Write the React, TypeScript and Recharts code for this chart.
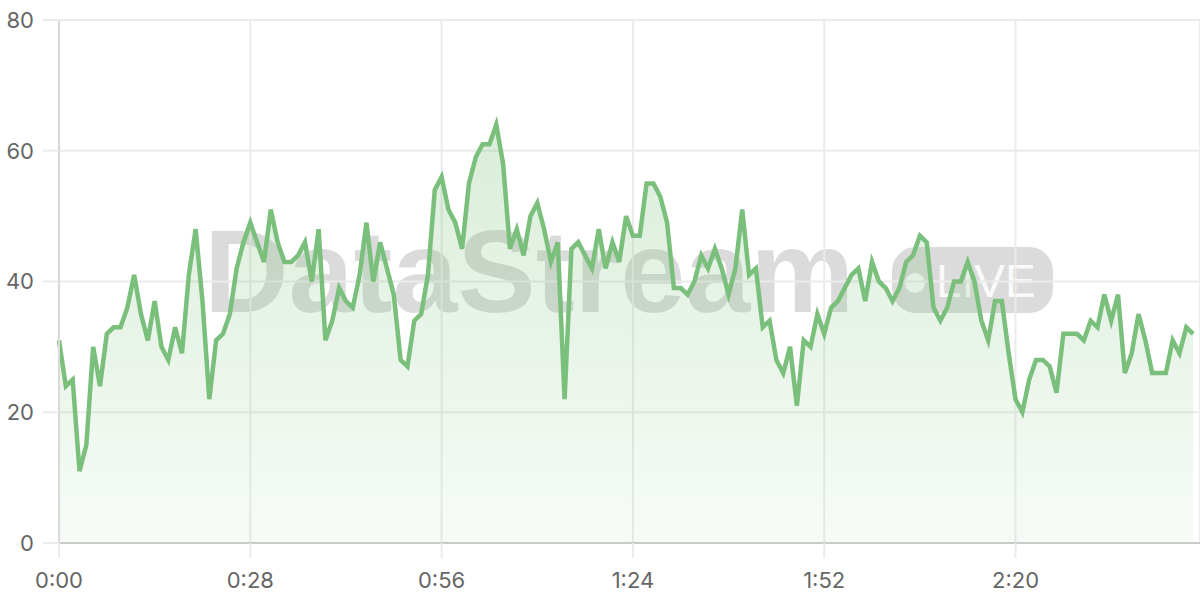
import React from 'react'
import { AreaChart, Area, XAxis, YAxis, CartesianGrid } from 'recharts'

// one reading per second
const values = [
  31, 24, 25, 11, 15, 30, 24, 32, 33, 33, 36, 41, 35, 31, 37, 30, 28, 33, 29, 41,
  48, 37, 22, 31, 32, 35, 42, 46, 49, 46, 43, 51, 46, 43, 43, 44, 46, 40, 48, 31,
  34, 39, 37, 36, 41, 49, 40, 46, 42, 38, 28, 27, 34, 35, 41, 54, 56, 51, 49, 45,
  55, 59, 61, 61, 64, 58, 45, 48, 44, 50, 52, 48, 43, 46, 22, 45, 46, 44, 42, 48,
  42, 46, 43, 50, 47, 47, 55, 55, 53, 49, 39, 39, 38, 40, 44, 42, 45, 42, 38, 42,
  51, 41, 42, 33, 34, 28, 26, 30, 21, 31, 30, 35, 32, 36, 37, 39, 41, 42, 37, 43,
  40, 39, 37, 39, 43, 44, 47, 46, 36, 34, 36, 40, 40, 43, 40, 34, 31, 37, 37, 29,
  22, 20, 25, 28, 28, 27, 23, 32, 32, 32, 31, 34, 33, 38, 34, 38, 26, 29, 35, 31,
  26, 26, 26, 31, 29, 33, 32,
]
const seconds = values.map((_, i) => i)
const xTicks = [0, 28, 56, 84, 112, 140]
const yTicks = [0, 20, 40, 60, 80]

const data = values.map((v, i) => ({ t: seconds[i], v }))

const GREEN = '#7abf7b'
const GRID = '#ebebeb'
const LABEL = '#666'
const FONT = 'Inter, "Liberation Sans", sans-serif'

const fmtTime = (s: number) => `${Math.floor(s / 60)}:${String(s % 60).padStart(2, '0')}`

function Watermark() {
  const ink = 'rgba(0,0,0,0.14)'
  return (
    <svg width={1200} height={600} style={{ position: 'absolute', left: 0, top: 0 }}>
      <text x={204} y={312} fontFamily='"Liberation Sans", Arial, sans-serif' fontWeight={700} fontSize={117} fill={ink}>
        DataStream
      </text>
      <rect x={892} y={247} width={161} height={66} rx={24} fill={ink} />
      <circle cx={915} cy={283} r={10} fill="rgba(255,255,255,0.9)" />
      <text x={936} y={297} fontFamily='"Liberation Sans", Arial, sans-serif' fontSize={46} fill="rgba(255,255,255,0.9)">
        LIVE
      </text>
    </svg>
  )
}

export default function App() {
  return (
    <div style={{ position: 'absolute', left: 0, top: 0, width: 1200, height: 600, background: '#fff' }}>
      <Watermark />
      <div style={{ position: 'absolute', left: 0, top: 0 }}>
        <AreaChart width={1200} height={600} data={data} margin={{ top: 20, right: 0, left: 0, bottom: 0 }}>
          <defs>
            <linearGradient id="fillGrad" x1="0" y1="0" x2="0" y2="1">
              <stop offset="0%" stopColor={GREEN} stopOpacity={0.28} />
              <stop offset="100%" stopColor={GREEN} stopOpacity={0.06} />
            </linearGradient>
          </defs>
          <CartesianGrid stroke={GRID} strokeWidth={2} />
          <XAxis
            dataKey="t"
            type="number"
            domain={[0, 167]}
            ticks={xTicks}
            tickFormatter={fmtTime}
            height={57}
            tickSize={15}
            tickMargin={14}
            tickLine={{ stroke: GRID, strokeWidth: 2 }}
            axisLine={{ stroke: '#cacaca', strokeWidth: 2 }}
            tick={{ fontSize: 22, fill: LABEL, fontFamily: FONT }}
          />
          <YAxis
            domain={[0, 80]}
            ticks={yTicks}
            width={59}
            tickSize={16}
            tickMargin={9}
            tickLine={{ stroke: GRID, strokeWidth: 2 }}
            axisLine={{ stroke: '#d9d9d9', strokeWidth: 2 }}
            tick={{ fontSize: 22, fill: LABEL, fontFamily: FONT }}
          />
          <Area
            type="linear"
            dataKey="v"
            stroke={GREEN}
            strokeWidth={4.5}
            fill="url(#fillGrad)"
            fillOpacity={1}
            dot={false}
            activeDot={false}
            isAnimationActive={false}
          />
        </AreaChart>
      </div>
    </div>
  )
}
